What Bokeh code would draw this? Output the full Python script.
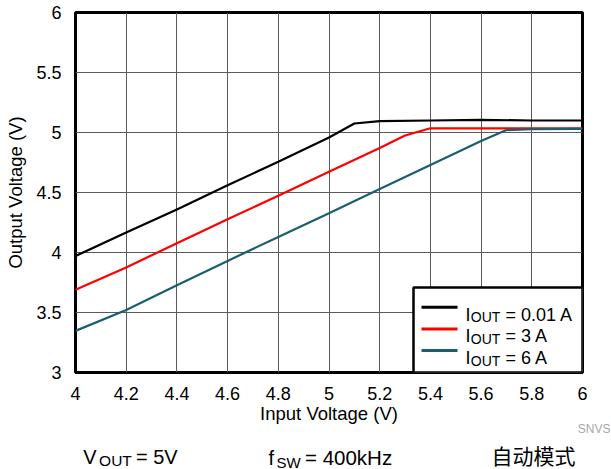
from bokeh.plotting import figure
from bokeh.layouts import column
from bokeh.core.properties import value
from bokeh.models import Label, Title
from bokeh.embed import file_html
from bokeh.resources import INLINE

# ---------------- data ----------------
vin_001 = [4.0, 4.2, 4.4, 4.6, 4.8, 5.0, 5.1, 5.2, 5.4, 5.6, 5.8, 6.0]
vout_001 = [3.97, 4.167, 4.358, 4.56, 4.756, 4.958, 5.075, 5.094, 5.100, 5.105, 5.100, 5.100]

vin_3 = [4.0, 4.2, 4.4, 4.6, 4.8, 5.0, 5.2, 5.3, 5.4, 5.6, 5.8, 6.0]
vout_3 = [3.689, 3.875, 4.078, 4.278, 4.472, 4.672, 4.87, 4.975, 5.035, 5.035, 5.035, 5.035]

vin_6 = [4.0, 4.2, 4.4, 4.6, 4.8, 5.0, 5.2, 5.4, 5.6, 5.7, 5.8, 6.0]
vout_6 = [3.347, 3.52, 3.728, 3.93, 4.13, 4.328, 4.53, 4.73, 4.93, 5.02, 5.027, 5.03]

x_ticks = [4.0, 4.2, 4.4, 4.6, 4.8, 5.0, 5.2, 5.4, 5.6, 5.8, 6.0]
x_tick_labels = ["4", "4.2", "4.4", "4.6", "4.8", "5", "5.2", "5.4", "5.6", "5.8", "6"]
y_ticks = [3.0, 3.5, 4.0, 4.5, 5.0, 5.5, 6.0]
y_tick_labels = ["3", "3.5", "4", "4.5", "5", "5.5", "6"]

legend_values = ["= 0.01 A", "= 3 A", "= 6 A"]
series_colors = ["#000000", "#ff0000", "#1b5f6e"]

# ---------------- layout constants (pixels) ----------------
FONT = "Liberation Sans"
W = 611
H_TOP, H_BOTTOM = 436, 33
FRAME_L, FRAME_R, FRAME_T, FRAME_B = 75, 582, 12, 372
XSTART, XEND = x_ticks[0], x_ticks[-1]
YSTART, YEND = y_ticks[0], y_ticks[-1]
PX_X = (XEND - XSTART) / (FRAME_R - FRAME_L)
PX_Y = (YEND - YSTART) / (FRAME_B - FRAME_T)

p = figure(width=W, height=H_TOP, x_range=(XSTART, XEND), y_range=(YSTART, YEND),
           output_backend="svg", toolbar_location=None,
           min_border_left=FRAME_L, min_border_right=W - FRAME_R,
           min_border_top=FRAME_T, min_border_bottom=H_TOP - FRAME_B)

p.background_fill_color = "white"
p.border_fill_color = "white"
p.outline_line_color = "black"
p.outline_line_width = 3

p.xaxis.ticker = x_ticks
p.yaxis.ticker = y_ticks
p.xaxis.major_label_overrides = {t: l for t, l in zip(x_ticks, x_tick_labels)}
p.yaxis.major_label_overrides = {t: l for t, l in zip(y_ticks, y_tick_labels)}

for ax in (p.xaxis[0], p.yaxis[0]):
    ax.axis_line_color = None
    ax.major_tick_line_color = None
    ax.minor_tick_line_color = None
    ax.major_label_text_font = FONT
    ax.major_label_text_font_size = "18px"
    ax.major_label_text_color = "black"
    ax.axis_label_text_font = FONT
    ax.axis_label_text_font_size = "18.5px"
    ax.axis_label_text_font_style = "normal"
    ax.axis_label_text_color = "black"

p.xaxis.axis_label = "Input Voltage (V)"
p.yaxis.axis_label = "Output Voltage (V)"
p.xaxis.major_label_standoff = 8
p.xaxis.axis_label_standoff = 0
p.yaxis.major_label_standoff = 8
p.yaxis.axis_label_standoff = 7

for g in (p.xgrid[0], p.ygrid[0]):
    g.grid_line_color = "#5a5a5a"
    g.grid_line_width = 1

# small grey document code under the plot, right side
p.add_layout(Title(text="SNVS", align="right", offset=-28, standoff=-10,
                   vertical_align="top",
                   text_font=FONT, text_font_size="12px", text_font_style="normal",
                   text_color="#a6a6a6"), "below")

# ---------------- curves ----------------
p.line(vin_001, vout_001, line_color=series_colors[0], line_width=2.2)
p.line(vin_3, vout_3, line_color=series_colors[1], line_width=2.2)
p.line(vin_6, vout_6, line_color=series_colors[2], line_width=2.2)

# ---------------- legend (manual, for subscripts) ----------------
LEG_LEFT_PX = 338      # from frame left
LEG_TOP_PX = 85        # above frame bottom
p.quad(left=[XSTART + LEG_LEFT_PX * PX_X], right=[XEND], bottom=[YSTART],
       top=[YSTART + LEG_TOP_PX * PX_Y], fill_color="white", line_color="black",
       line_width=2.5)

row_up = [65.3, 43.5, 22.0]
seg_x0 = XSTART + 346 * PX_X
seg_x1 = XSTART + 382 * PX_X
p.segment(x0=[seg_x0] * 3, x1=[seg_x1] * 3,
          y0=[YSTART + r * PX_Y for r in row_up], y1=[YSTART + r * PX_Y for r in row_up],
          line_color=series_colors, line_width=3)


def add_label(text, dx, dy, size):
    p.add_layout(Label(x=XSTART, y=YSTART, x_units="data", y_units="data",
                       x_offset=dx, y_offset=dy, text=text, text_font=FONT,
                       text_font_size=size, text_color="black",
                       text_baseline="alphabetic"))


for r, val in zip(row_up, legend_values):
    base = r - 7.3
    add_label("I", 390, base, "18px")
    add_label("OUT", 395.3, base - 2.7, "14px")
    add_label(val, 430, base, "18px")

# ---------------- strip below the chart: conditions line ----------------
# its frame is aligned with the chart frame, so ranges are page pixels
p2 = figure(width=W, height=H_BOTTOM, x_range=(FRAME_L, FRAME_R), y_range=(H_TOP + H_BOTTOM, H_TOP),
            output_backend="svg", toolbar_location=None,
            x_axis_type=None, y_axis_type=None,
            min_border_left=FRAME_L, min_border_right=W - FRAME_R,
            min_border_top=0, min_border_bottom=0)
p2.outline_line_color = None
p2.background_fill_color = "white"
p2.border_fill_color = "white"
p2.xgrid.visible = False
p2.ygrid.visible = False


def add_text(text, x, y, size, font=FONT, color="black", align="left", baseline="alphabetic"):
    p2.text(x=[x], y=[y], text=[text], text_font=value(font), text_font_size=value(size),
            text_color=color, text_align=align, text_baseline=baseline)


add_text("V", 82.7, 456.5, "20px")
add_text("OUT", 98.6, 460.3, "15.5px")
add_text("= 5V", 135.5, 456.5, "20px")

add_text("f", 268, 457, "20px")
add_text("SW", 276, 461.5, "15px")
add_text("= 400kHz", 304.5, 457, "20.5px")

add_text("自动模式", 491, 454, "21px", font="Noto Sans CJK SC", baseline="middle")

layout = column(p, p2, spacing=0)
open("out.html", "w").write(file_html(layout, INLINE))
